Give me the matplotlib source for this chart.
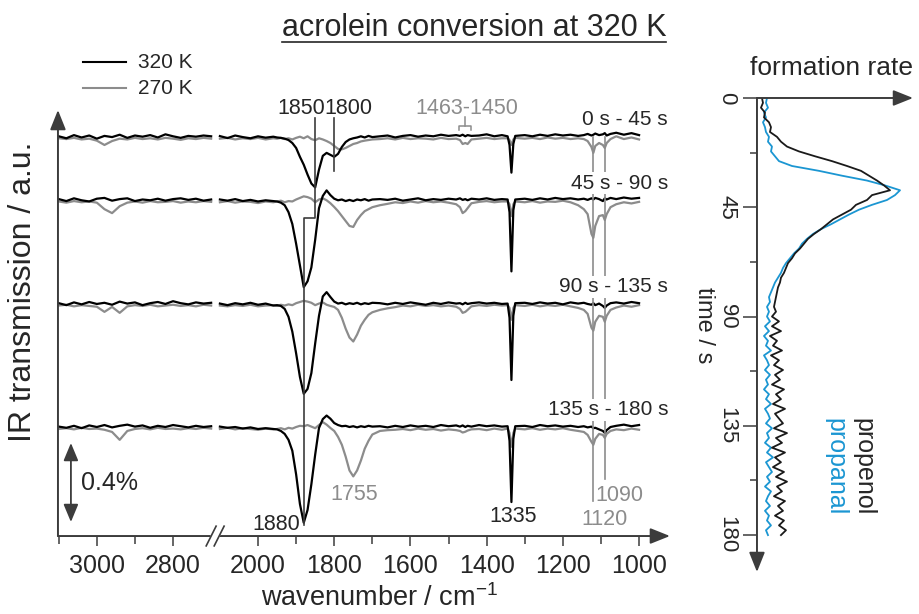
import matplotlib.pyplot as plt
import numpy as np
import matplotlib as mpl
from matplotlib.lines import Line2D
mpl.use('Agg')

plt.rcParams['font.family'] = ['Liberation Sans', 'DejaVu Sans']
plt.rcParams['mathtext.fontset'] = 'custom'
plt.rcParams['mathtext.rm'] = 'Liberation Sans'
plt.rcParams['mathtext.it'] = 'Liberation Sans:italic'

############ DATA #############
# spectra: offset (in % transmission) from each row's baseline
window_labels = ['0 s - 45 s', '45 s - 90 s', '90 s - 135 s', '135 s - 180 s']
row_baselines = [2.02, 1.70, 1.175, 0.552]

wn_left = [3100, 3080, 3060, 3040, 3020, 3000, 2980, 2960, 2940, 2920, 2900,
           2880, 2860, 2840, 2820, 2800, 2780, 2760, 2740, 2720, 2700]
wn_right = [2100, 2080, 2060, 2040, 2020, 2000, 1980, 1960,
            1950, 1940, 1930, 1920, 1910, 1900, 1890, 1880, 1870, 1860, 1850, 1840, 1830,
            1820, 1810, 1800, 1790, 1780, 1770, 1760, 1750, 1740, 1730, 1720, 1710, 1700,
            1680, 1660, 1640, 1620, 1600, 1580, 1560, 1540, 1520, 1500, 1480,
            1470, 1463, 1456, 1450, 1440,
            1420, 1400, 1380, 1360,
            1345, 1340, 1335, 1330, 1325,
            1300, 1280, 1260, 1240, 1220, 1200, 1180, 1160,
            1145, 1135, 1125, 1120, 1115, 1105, 1095, 1090, 1085, 1075,
            1060, 1040, 1020, 1000]

# 320 K (black) and 270 K (gray), row 1: 0 s - 45 s
k1_left = [0.004, -0.006, 0.010, -0.002, 0.008, -0.008, 0.006, 0.000, 0.012, -0.004, 0.008,
           0.002, 0.010, -0.002, 0.014, 0.004, -0.004, 0.006, 0.002, 0.008, 0.004]
k1_right = [0.005, -0.005, 0.008, 0.000, -0.006, 0.004, -0.003, 0.002,
            -0.002, -0.004, -0.008, -0.015, -0.030, -0.055, -0.100, -0.140, -0.190, -0.235, -0.255, -0.165, -0.095,
            -0.080, -0.090, -0.100, -0.085, -0.050, -0.025, -0.012, -0.006, -0.002, 0.004, -0.002, 0.006, 0.000,
            0.004, 0.008, -0.002, 0.006, 0.010, 0.002, 0.008, 0.004, 0.012, 0.006, 0.010,
            0.006, 0.012, 0.004, 0.010, 0.006,
            0.008, 0.014, 0.004, 0.010,
            0.004, -0.040, -0.180, -0.035, 0.006,
            0.010, 0.004, 0.012, 0.006, 0.014, 0.008, 0.012, 0.006,
            0.010, 0.016, 0.008, 0.012, 0.018, 0.010, 0.014, 0.020, 0.008, 0.016,
            0.022, 0.012, 0.020, 0.010]
g1_left = [-0.006, -0.010, -0.004, -0.012, -0.008, -0.018, -0.040, -0.020, -0.008, -0.012, -0.004,
           -0.010, -0.006, -0.012, -0.004, -0.008, -0.014, -0.006, -0.010, -0.004, -0.008]
g1_right = [-0.008, -0.004, -0.012, -0.006, -0.010, -0.004, -0.012, -0.006,
            -0.008, -0.004, -0.010, -0.006, -0.012, -0.004, 0.002, -0.006, 0.004, -0.010, -0.016, -0.006, -0.012,
            -0.020, -0.030, -0.045, -0.060, -0.062, -0.055, -0.045, -0.035, -0.030, -0.022, -0.018, -0.015, -0.012,
            -0.010, -0.006, -0.012, -0.004, -0.010, -0.006, -0.008, -0.012, -0.004, -0.010, -0.008,
            -0.015, -0.035, -0.030, -0.035, -0.012,
            -0.008, -0.004, -0.010, -0.006,
            -0.006, -0.015, -0.040, -0.012, -0.004,
            -0.008, -0.004, -0.010, -0.002, -0.008, -0.004, -0.010, -0.006,
            -0.010, -0.020, -0.050, -0.080, -0.045, -0.030, -0.040, -0.055, -0.030, -0.010,
            0.004, -0.010, -0.002, -0.012]

# row 2: 45 s - 90 s
k2_left = [0.006, -0.004, 0.010, 0.000, -0.006, 0.008, 0.012, -0.002, 0.006, 0.010, -0.004,
           0.004, 0.000, 0.008, -0.002, 0.006, 0.010, 0.002, 0.008, -0.002, 0.004]
k2_right = [0.004, -0.002, 0.006, -0.004, 0.002, -0.006, 0.000, -0.004,
            -0.006, -0.012, -0.025, -0.060, -0.120, -0.220, -0.330, -0.440, -0.410, -0.340, -0.200, -0.040, 0.022,
            0.050, 0.026, 0.008, 0.000, 0.004, -0.004, 0.002, -0.004, 0.004, 0.000, 0.006, -0.002, 0.004,
            0.006, 0.002, 0.008, -0.002, 0.004, 0.010, 0.000, 0.006, 0.002, 0.008, 0.004,
            0.010, 0.002, 0.006, 0.000, 0.008,
            0.004, 0.010, 0.002, 0.006,
            0.004, -0.060, -0.360, -0.050, 0.004,
            0.008, 0.002, 0.010, 0.004, 0.012, 0.006, 0.010, 0.004,
            0.008, 0.002, 0.010, 0.004, 0.012, 0.006, -0.004, 0.010, 0.004, 0.012,
            0.006, 0.014, 0.008, 0.012]
g2_left = [-0.006, -0.012, -0.004, -0.010, -0.006, -0.012, -0.045, -0.065, -0.030, -0.012, -0.006,
           -0.012, -0.004, -0.010, -0.008, -0.004, -0.012, -0.006, -0.010, -0.004, -0.008]
g2_right = [-0.010, -0.004, -0.012, -0.006, -0.008, -0.014, -0.006, -0.010,
            -0.006, -0.002, -0.010, -0.004, -0.006, 0.004, 0.012, 0.020, 0.016, 0.008, -0.010, 0.004, 0.010,
            0.000, -0.015, -0.034, -0.055, -0.080, -0.105, -0.130, -0.135, -0.100, -0.075, -0.055, -0.045, -0.035,
            -0.025, -0.018, -0.010, -0.014, -0.006, -0.012, -0.004, -0.010, -0.006, -0.012, -0.020,
            -0.035, -0.065, -0.055, -0.040, -0.015,
            -0.008, -0.004, -0.010, -0.006,
            -0.006, -0.020, -0.080, -0.020, -0.006,
            -0.010, -0.004, -0.012, -0.006, -0.008, -0.002, -0.010, -0.025,
            -0.045, -0.070, -0.170, -0.190, -0.130, -0.080, -0.075, -0.100, -0.070, -0.035,
            -0.020, -0.010, -0.016, -0.008]

# row 3: 90 s - 135 s
k3_left = [0.004, -0.006, 0.008, -0.002, 0.010, 0.000, 0.006, -0.004, 0.012, 0.002, 0.008,
           -0.006, 0.004, 0.010, 0.000, 0.014, 0.004, -0.002, 0.008, 0.002, 0.006]
k3_right = [0.002, -0.006, 0.004, -0.002, 0.006, -0.004, 0.002, -0.008,
            -0.006, -0.010, -0.025, -0.065, -0.140, -0.250, -0.370, -0.455, -0.430, -0.350, -0.200, -0.060, 0.038,
            0.060, 0.035, 0.012, 0.002, 0.006, -0.002, 0.004, 0.000, 0.006, -0.002, 0.004, 0.000, 0.006,
            0.004, -0.002, 0.006, 0.000, 0.008, 0.002, -0.004, 0.006, 0.000, 0.008, 0.002,
            0.004, -0.002, 0.006, 0.000, 0.004,
            0.008, 0.002, 0.006, 0.000,
            0.002, -0.070, -0.385, -0.060, 0.004,
            0.006, 0.000, 0.008, 0.002, 0.006, -0.002, 0.008, 0.002,
            0.006, 0.000, -0.004, 0.004, -0.006, 0.002, -0.010, -0.020, -0.008, 0.004,
            0.008, 0.002, 0.010, 0.004]
g3_left = [-0.008, -0.004, -0.012, -0.006, -0.010, -0.014, -0.040, -0.015, -0.045, -0.012, -0.006,
           -0.010, -0.004, -0.012, -0.008, -0.004, -0.010, -0.006, -0.012, -0.004, -0.008]
g3_right = [-0.008, -0.012, -0.006, -0.010, -0.004, -0.012, -0.008, -0.006,
            -0.010, -0.004, -0.008, -0.002, -0.006, 0.004, 0.010, 0.016, 0.012, 0.006, -0.006, 0.002, 0.008,
            -0.004, -0.010, -0.015, -0.030, -0.070, -0.125, -0.170, -0.190, -0.155, -0.110, -0.080, -0.055, -0.042,
            -0.030, -0.022, -0.016, -0.008, -0.012, -0.004, -0.010, -0.006, -0.012, -0.008, -0.014,
            -0.025, -0.045, -0.040, -0.030, -0.012,
            -0.006, -0.010, -0.004, -0.008,
            -0.006, -0.020, -0.080, -0.020, -0.006,
            -0.010, -0.004, -0.012, -0.006, -0.010, -0.004, -0.012, -0.020,
            -0.030, -0.050, -0.120, -0.135, -0.090, -0.060, -0.065, -0.090, -0.060, -0.030,
            -0.018, -0.008, -0.014, -0.006]

# row 4: 135 s - 180 s
k4_left = [0.002, -0.004, 0.006, -0.006, 0.008, 0.000, 0.010, -0.002, 0.006, 0.012, 0.002,
           0.008, -0.004, 0.006, 0.000, 0.010, 0.004, -0.002, 0.006, 0.000, 0.004]
k4_right = [0.002, -0.004, 0.000, -0.008, -0.002, -0.010, -0.006, -0.010,
            -0.012, -0.020, -0.035, -0.065, -0.120, -0.240, -0.390, -0.485, -0.420, -0.290, -0.140, -0.005, 0.040,
            0.058, 0.042, 0.020, 0.010, 0.004, 0.006, 0.000, 0.004, -0.002, 0.004, 0.000, 0.006, 0.002,
            0.004, -0.002, 0.006, 0.000, 0.008, 0.002, 0.006, 0.000, 0.010, 0.004, 0.008,
            0.002, 0.008, 0.000, 0.006, 0.002,
            0.010, 0.004, 0.008, 0.002,
            0.004, -0.070, -0.380, -0.060, 0.004,
            0.006, 0.000, 0.010, 0.004, 0.008, 0.002, 0.006, 0.000,
            0.004, -0.002, 0.002, -0.006, -0.004, -0.012, -0.020, -0.030, -0.016, 0.000,
            0.006, 0.012, 0.004, 0.010]
g4_left = [-0.010, -0.006, -0.012, -0.004, -0.010, -0.008, -0.014, -0.025, -0.065, -0.020, -0.010,
           -0.006, -0.012, -0.004, -0.010, -0.008, -0.012, -0.006, -0.010, -0.004, -0.008]
g4_right = [-0.010, -0.004, -0.012, -0.006, -0.010, -0.014, -0.008, -0.012,
            -0.010, -0.006, -0.012, -0.004, -0.008, 0.000, 0.006, 0.004, 0.010, 0.002, -0.006, 0.010, 0.025,
            0.012, -0.005, -0.020, -0.050, -0.090, -0.150, -0.220, -0.250, -0.220, -0.170, -0.110, -0.070, -0.038,
            -0.020, -0.016, -0.014, -0.010, -0.016, -0.008, -0.014, -0.010, -0.018, -0.012, -0.016,
            -0.020, -0.028, -0.024, -0.018, -0.012,
            -0.010, -0.016, -0.008, -0.014,
            -0.008, -0.030, -0.100, -0.030, -0.008,
            -0.012, -0.006, -0.014, -0.008, -0.012, -0.006, -0.014, -0.020,
            -0.025, -0.040, -0.075, -0.090, -0.060, -0.035, -0.040, -0.055, -0.035, -0.020,
            -0.012, -0.016, -0.008, -0.014]

# formation rates (a.u.) vs time (s)
time_s = [0, 2, 4, 6, 8, 10, 12, 14, 16, 18,
          20, 22, 24, 26, 28, 30, 32, 34, 36, 38,
          40, 42, 44, 46, 48, 50, 52, 54, 56, 58,
          60, 62, 64, 66, 68, 70, 72, 74, 76, 78,
          80, 82, 84, 86, 88, 90, 92, 94, 96, 98,
          100, 102, 104, 106, 108, 110, 112, 114, 116, 118,
          120, 122, 124, 126, 128, 130, 132, 134, 136, 138,
          140, 142, 144, 146, 148, 150, 152, 154, 156, 158,
          160, 162, 164, 166, 168, 170, 172, 174, 176, 178, 180]
propenol = [5, 6, 4, 8, 7, 12, 14, 13, 20, 24,
            30, 42, 58, 75, 90, 104, 112, 120, 127, 133,
            115, 110, 99, 94, 85, 76, 70, 64, 57, 51,
            47, 43, 38, 35, 31, 29, 27, 24, 23, 21,
            20, 19, 18, 17, 19, 15, 22, 15, 24, 13,
            20, 16, 25, 14, 22, 17, 26, 18, 23, 15,
            27, 19, 24, 16, 28, 18, 22, 26, 17, 30,
            19, 25, 15, 28, 18, 24, 16, 27, 19, 30,
            20, 25, 17, 28, 21, 26, 18, 27, 22, 29, 24]
propanal = [10, 9, 11, 7, 9, 6, 8, 9, 12, 11,
            15, 14, 18, 22, 35, 62, 85, 110, 128, 143,
            138, 130, 115, 102, 92, 83, 74, 64, 56, 50,
            45, 42, 37, 33, 29, 26, 24, 21, 18, 16,
            14, 12, 13, 10, 12, 10, 13, 8, 12, 7,
            11, 9, 14, 7, 10, 12, 8, 13, 9, 11,
            7, 12, 9, 14, 8, 11, 13, 9, 15, 10,
            12, 8, 14, 10, 16, 9, 12, 15, 10, 13,
            8, 14, 11, 9, 13, 8, 12, 10, 14, 9, 11]

############ STYLE #############
TXT = '#262626'
AXC = '#3c3c3c'
GRAY = '#8c8c8c'
BLUE = '#1b96d2'
SHIFT = 577  # cm-1 removed by the axis break (3100-2700 segment is drawn next to 2100)

fig = plt.figure(figsize=(9.2, 6.14), dpi=100)

############ SPECTRA PANEL #############
ax = fig.add_axes([0.0630, 0.1270, 0.6652, 0.6938])
ax.set_xlim(2525, 919)
ax.set_ylim(0, 2.157)
for s in ax.spines.values():
    s.set_visible(False)

wl = np.array(wn_left) - SHIFT
wr = np.array(wn_right)
rows = [(k1_left, k1_right, g1_left, g1_right),
        (k2_left, k2_right, g2_left, g2_right),
        (k3_left, k3_right, g3_left, g3_right),
        (k4_left, k4_right, g4_left, g4_right)]
for base, lab, (kl, kr, gl, gr) in zip(row_baselines, window_labels, rows):
    ax.plot(wl, base + np.array(gl), color=GRAY, lw=1.6)
    ax.plot(wr, base + np.array(gr), color=GRAY, lw=1.6)
    ax.plot(wl, base + np.array(kl), color='black', lw=1.6)
    ax.plot(wr, base + np.array(kr), color='black', lw=1.6)
    ax.text(924, base + 0.087, lab, ha='right', va='center', fontsize=15, color=TXT,
            bbox=dict(facecolor='white', edgecolor='none', pad=1.0), zorder=6)

major = [3000, 2800, 2000, 1800, 1600, 1400, 1200, 1000]
minor = [3100, 2900, 1900, 1700, 1500, 1300, 1100]
ax.set_xticks([w - SHIFT if w > 2100 else w for w in major])
ax.set_xticklabels([str(w) for w in major])
ax.set_xticks([w - SHIFT if w > 2100 else w for w in minor], minor=True)
ax.tick_params(axis='x', which='major', direction='out', length=7, width=1.1, color=AXC,
               labelsize=18, labelcolor=TXT, pad=6)
ax.tick_params(axis='x', which='minor', direction='out', length=6, width=1.1, color=AXC)
ax.tick_params(axis='y', left=False, labelleft=False)

arrow = dict(arrowstyle='-|>,head_length=0.6,head_width=0.24', color=AXC, lw=1.4,
             mutation_scale=20, shrinkA=0, shrinkB=0)
ax.annotate('', xy=(1, 0), xytext=(0, 0), xycoords='axes fraction', arrowprops=arrow)
ax.annotate('', xy=(0, 1), xytext=(0, 0), xycoords='axes fraction', arrowprops=arrow)

# axis break
ax.fill([2136, 2110, 2089, 2115], [-0.05, 0.05, 0.05, -0.05], color='white',
        clip_on=False, zorder=4)
ax.plot([2136, 2110], [-0.05, 0.05], color=AXC, lw=1.2, clip_on=False, zorder=5)
ax.plot([2115, 2089], [-0.05, 0.05], color=AXC, lw=1.2, clip_on=False, zorder=5)

# 0.4 % scale bar
ax.annotate('', xy=(2491, 0.071), xytext=(2491, 0.471),
            arrowprops=dict(arrowstyle='<|-|>,head_length=0.6,head_width=0.25', color=AXC,
                            lw=1.3, mutation_scale=18, shrinkA=0, shrinkB=0))
ax.text(2465, 0.268, '0.4%', ha='left', va='center', fontsize=18, color=TXT)

# peak markers
ax.plot([1850, 1850, 1880, 1880], [2.116, 1.610, 1.610, 0.056], color=AXC, lw=1.2,
        clip_on=False, zorder=5)
ax.plot([1800, 1800], [2.116, 1.848], color=AXC, lw=1.2, clip_on=False, zorder=5)
ax.plot([1120, 1120], [2.02, 0.175], color=GRAY, lw=1.2, zorder=5)
ax.plot([1090, 1090], [2.02, 0.29], color=GRAY, lw=1.2, zorder=5)
ax.plot([1472, 1472, 1441, 1441], [2.056, 2.076, 2.076, 2.056], color=GRAY, lw=1.1, clip_on=False)
ax.plot([1456, 1456], [2.076, 2.122], color=GRAY, lw=1.1, clip_on=False)

ax.text(1887, 2.167, '1850', ha='center', va='center', fontsize=15.5, color=TXT)
ax.text(1764, 2.167, '1800', ha='center', va='center', fontsize=15.5, color=TXT)
ax.text(1451, 2.167, '1463-1450', ha='center', va='center', fontsize=15.5, color=GRAY)
ax.text(1890, 0.056, '1880', ha='right', va='center', fontsize=15.5, color=TXT)
ax.text(1747, 0.208, '1755', ha='center', va='center', fontsize=15.5, color=GRAY)
ax.text(1331, 0.101, '1335', ha='center', va='center', fontsize=15.5, color=TXT)
ax.text(1092, 0.086, '1120', ha='center', va='center', fontsize=15.5, color=GRAY)
ax.text(1051, 0.203, '1090', ha='center', va='center', fontsize=15.5, color=GRAY)

############ RATE PANEL #############
ax2 = fig.add_axes([0.8228, 0.0684, 0.1696, 0.7720])
ax2.set_xlim(0, 156)
ax2.set_ylim(195.2, 0)
for s in ax2.spines.values():
    s.set_visible(False)
ax2.plot(propanal, time_s, color=BLUE, lw=1.3)
ax2.plot(propenol, time_s, color='#1a1a1a', lw=1.3)
ax2.set_yticks([0, 45, 90, 135, 180])
ax2.set_yticklabels(['0', '45', '90', '135', '180'], rotation=270, va='center')
ax2.set_yticks([22.5, 67.5, 112.5, 157.5], minor=True)
ax2.tick_params(axis='y', which='major', direction='out', length=10, width=1.1, color=AXC,
                labelsize=16, labelcolor=TXT, pad=4)
ax2.tick_params(axis='y', which='minor', direction='out', length=5, width=1.1, color=AXC)
ax2.tick_params(axis='x', bottom=False, labelbottom=False)
ax2.annotate('', xy=(0, 0), xytext=(0, 1), xycoords='axes fraction', arrowprops=arrow)
ax2.annotate('', xy=(1, 1), xytext=(0, 1), xycoords='axes fraction', arrowprops=arrow)

############ TEXT #############
title = fig.text(474 / 920, 1 - 28 / 614, 'acrolein conversion at 320 K', ha='center',
                 va='center', fontsize=22, color=TXT)
fig.text(380 / 920, 1 - 598 / 614, 'wavenumber / cm$^{-1}$', ha='center', va='center',
         fontsize=19.5, color=TXT)
fig.text(23 / 920, 1 - 292 / 614, 'IR transmission / a.u.', rotation=90, ha='center',
         va='center', fontsize=23, color=TXT)
fig.text(832 / 920, 1 - 68 / 614, 'formation rate', ha='center', va='center', fontsize=19,
         color=TXT)
fig.text(704 / 920, 1 - 325 / 614, 'time / s', rotation=270, ha='center', va='center',
         fontsize=17, color=TXT)
fig.text(863 / 920, 1 - 418 / 614, 'propenol', rotation=270, ha='center', va='top',
         fontsize=18, color=TXT)
fig.text(835 / 920, 1 - 418 / 614, 'propanal', rotation=270, ha='center', va='top',
         fontsize=18, color=BLUE)

# legend
for yy, col, lab in [(62, 'black', '320 K'), (88, GRAY, '270 K')]:
    fig.add_artist(Line2D([83 / 920, 126 / 920], [1 - yy / 614] * 2, color=col, lw=1.5))
    fig.text(138 / 920, 1 - yy / 614, lab, ha='left', va='center', fontsize=15, color=TXT)

# underline the title
fig.canvas.draw()
bb = title.get_window_extent().transformed(fig.transFigure.inverted())
fig.add_artist(Line2D([bb.x0, bb.x1], [bb.y0 + 0.002] * 2, color=TXT, lw=1.2))

fig.savefig('out.png', dpi=100)
